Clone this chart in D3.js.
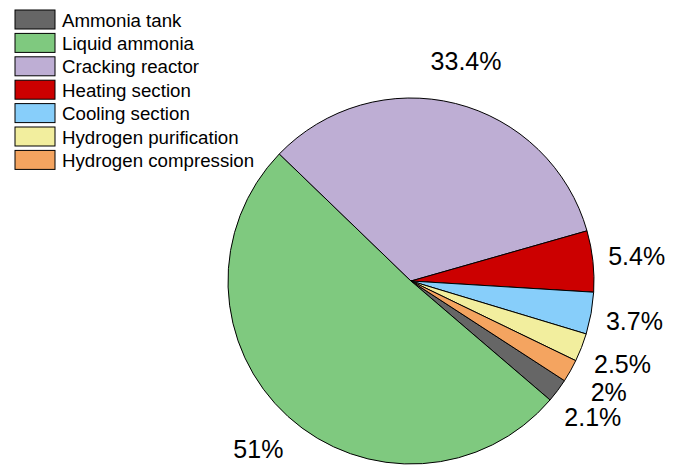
<!DOCTYPE html>
<html><head><meta charset="utf-8">
<script src="https://cdn.jsdelivr.net/npm/d3@7"></script>
<style>body{margin:0;background:#fff;}svg{display:block;font-family:"Liberation Sans",Arial,sans-serif;}</style>
</head><body>
<svg id="c" width="678" height="466"></svg>
<script>
const categories = ["Ammonia tank","Liquid ammonia","Cracking reactor","Heating section","Cooling section","Hydrogen purification","Hydrogen compression"];
const values = [2.1, 51, 33.4, 5.4, 3.7, 2.5, 2];
const labels = ["2.1%","51%","33.4%","5.4%","3.7%","2.5%","2%"];
const colors = ["#666666","#7fc97f","#beaed4","#cc0000","#87cefa","#f2ee9e","#f4a460"];

const svg = d3.select("#c");
const cx = 411, cy = 281, r = 183, lr = 227;
const start = 123 * Math.PI / 180;
const pie = d3.pie().sort(null).startAngle(start).endAngle(start + 2*Math.PI);
const arcs = pie(values);
const arc = d3.arc().innerRadius(0).outerRadius(r);
const g = svg.append("g").attr("transform", `translate(${cx},${cy})`);
g.selectAll("path").data(arcs).join("path")
  .attr("d", arc).attr("fill", (d,i)=>colors[i])
  .attr("stroke", "#000").attr("stroke-width", 1).attr("stroke-linejoin","round");
const larc = d3.arc().innerRadius(lr).outerRadius(lr);
g.selectAll("text").data(arcs).join("text")
  .attr("transform", d => `translate(${larc.centroid(d)})`)
  .attr("text-anchor","middle").attr("dominant-baseline","central")
  .attr("font-size", 25).attr("fill","#000")
  .text((d,i)=>labels[i]);

const lg = svg.append("g");
const rows = lg.selectAll("g").data(categories).join("g")
  .attr("transform", (d,i)=>`translate(15,${10 + i*23.4})`);
rows.append("rect").attr("width", 40).attr("height", 19)
  .attr("fill", (d,i)=>colors[i]).attr("stroke","#000").attr("stroke-width",1);
rows.append("text").attr("x", 47).attr("y", 10).attr("dominant-baseline","central")
  .attr("font-size", 18.7).attr("fill","#000").text(d=>d);
</script>
</body></html>
